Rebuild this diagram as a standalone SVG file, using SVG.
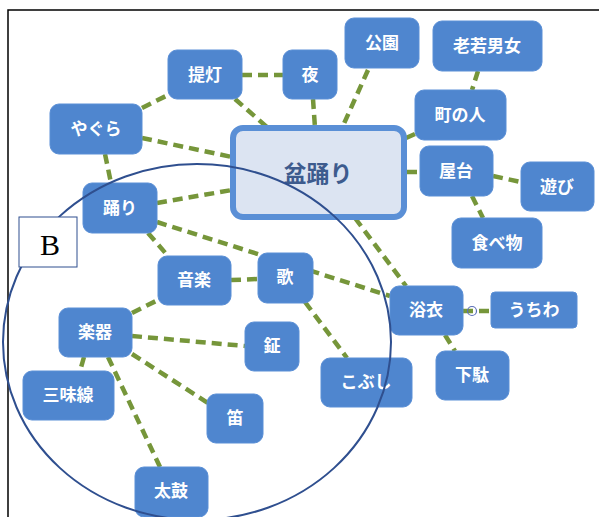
<svg xmlns="http://www.w3.org/2000/svg" width="599" height="517" viewBox="0 0 599 517">
<style>
.n rect{fill:#4f86cf;stroke:#5a8fd6;stroke-width:1}
.n text{fill:#fff;font-family:"Noto Sans CJK JP","Noto Sans",sans-serif;font-weight:bold;font-size:17px;text-anchor:middle;dominant-baseline:central}
#conn line{stroke:#76963a;stroke-width:4.5;stroke-dasharray:10 6;fill:none}
</style>
<rect x="8" y="10" width="600" height="520" fill="#fff" stroke="#000" stroke-width="1.5"/>
<g id="conn">
<line x1="242" y1="75" x2="283" y2="75"/>
<line x1="235" y1="99" x2="268" y2="128"/>
<line x1="142" y1="108" x2="170" y2="94"/>
<line x1="142" y1="138" x2="232" y2="157"/>
<line x1="105" y1="154" x2="111" y2="183"/>
<line x1="157" y1="203" x2="232" y2="190"/>
<line x1="157" y1="222" x2="390" y2="296"/>
<line x1="148" y1="233" x2="168" y2="256"/>
<line x1="313" y1="99" x2="315" y2="128"/>
<line x1="368" y1="70" x2="342" y2="128"/>
<line x1="415" y1="134" x2="406" y2="138"/>
<line x1="478" y1="71" x2="472" y2="90"/>
<line x1="407" y1="172" x2="420" y2="172"/>
<line x1="493" y1="176" x2="521" y2="182"/>
<line x1="472" y1="196" x2="483" y2="218"/>
<line x1="355" y1="218" x2="406" y2="286"/>
<line x1="231" y1="280" x2="258" y2="279"/>
<line x1="305" y1="302" x2="347" y2="358"/>
<line x1="132" y1="313" x2="158" y2="300"/>
<line x1="132" y1="336" x2="245" y2="346"/>
<line x1="132" y1="354" x2="208" y2="403"/>
<line x1="84" y1="357" x2="80" y2="371"/>
<line x1="108" y1="357" x2="160" y2="467"/>
<line x1="463" y1="311" x2="491" y2="311"/>
<line x1="445" y1="335" x2="455" y2="351"/>
</g>
<g id="bon"><rect x="233" y="128" width="171" height="89" rx="10" fill="#dce4f2" stroke="#5a8fd6" stroke-width="6"/><text x="318" y="172" fill="#3d5b8e" font-family="'Noto Sans CJK JP','Noto Sans',sans-serif" font-weight="bold" font-size="23" text-anchor="middle" dominant-baseline="central">盆踊り</text></g>
<g id="chochin" class="n"><rect x="168" y="50" width="74" height="49" rx="9"/><text x="205" y="73">提灯</text></g>
<g id="yoru" class="n"><rect x="283" y="50" width="54" height="49" rx="9"/><text x="310" y="73">夜</text></g>
<g id="koen" class="n"><rect x="345" y="18" width="74" height="50" rx="9"/><text x="382" y="41">公園</text></g>
<g id="rojaku" class="n"><rect x="433" y="21" width="109" height="50" rx="9"/><text x="487" y="44">老若男女</text></g>
<g id="machi" class="n"><rect x="415" y="90" width="91" height="50" rx="9"/><text x="460" y="113">町の人</text></g>
<g id="yatai" class="n"><rect x="420" y="146" width="73" height="50" rx="9"/><text x="456" y="169">屋台</text></g>
<g id="asobi" class="n"><rect x="521" y="162" width="73" height="49" rx="9"/><text x="557" y="185">遊び</text></g>
<g id="tabemono" class="n"><rect x="452" y="218" width="90" height="50" rx="9"/><text x="497" y="241">食べ物</text></g>
<g id="yagura" class="n"><rect x="50" y="104" width="92" height="50" rx="9"/><text x="96" y="127">やぐら</text></g>
<g id="odori" class="n"><rect x="83" y="183" width="74" height="50" rx="9"/><text x="120" y="206">踊り</text></g>
<g id="ongaku" class="n"><rect x="158" y="256" width="73" height="49" rx="9"/><text x="194" y="278">音楽</text></g>
<g id="uta" class="n"><rect x="258" y="253" width="55" height="50" rx="9"/><text x="285" y="275">歌</text></g>
<g id="gakki" class="n"><rect x="59" y="308" width="73" height="49" rx="9"/><text x="95" y="330">楽器</text></g>
<g id="kane" class="n"><rect x="245" y="322" width="54" height="49" rx="9"/><text x="272" y="344">鉦</text></g>
<g id="shamisen" class="n"><rect x="23" y="371" width="91" height="49" rx="9"/><text x="68" y="393">三味線</text></g>
<g id="fue" class="n"><rect x="207" y="394" width="56" height="49" rx="9"/><text x="235" y="416">笛</text></g>
<g id="taiko" class="n"><rect x="135" y="467" width="73" height="50" rx="9"/><text x="171" y="489">太鼓</text></g>
<g id="yukata" class="n"><rect x="390" y="286" width="73" height="49" rx="9"/><text x="426" y="308">浴衣</text></g>
<g id="uchiwa" class="n"><rect x="491" y="292" width="86" height="36" rx="4"/><text x="534" y="308">うちわ</text></g>
<g id="geta" class="n"><rect x="436" y="351" width="73" height="49" rx="9"/><text x="472" y="373">下駄</text></g>
<g id="kobushi" class="n"><rect x="321" y="358" width="91" height="49" rx="9"/><text x="366" y="380">こぶし</text></g>
<circle cx="472" cy="311" r="4.5" fill="none" stroke="#5b6fb8" stroke-width="1.2"/>
<ellipse cx="197" cy="342" rx="194" ry="178" fill="none" stroke="#2f4f8f" stroke-width="2"/>
<g id="labelB"><rect x="19" y="217" width="58" height="50" fill="#fff" stroke="#2f4f8f" stroke-width="1"/><text x="50" y="244" font-family="'Liberation Serif',serif" font-size="30" text-anchor="middle" dominant-baseline="central" fill="#000">B</text></g>
</svg>
